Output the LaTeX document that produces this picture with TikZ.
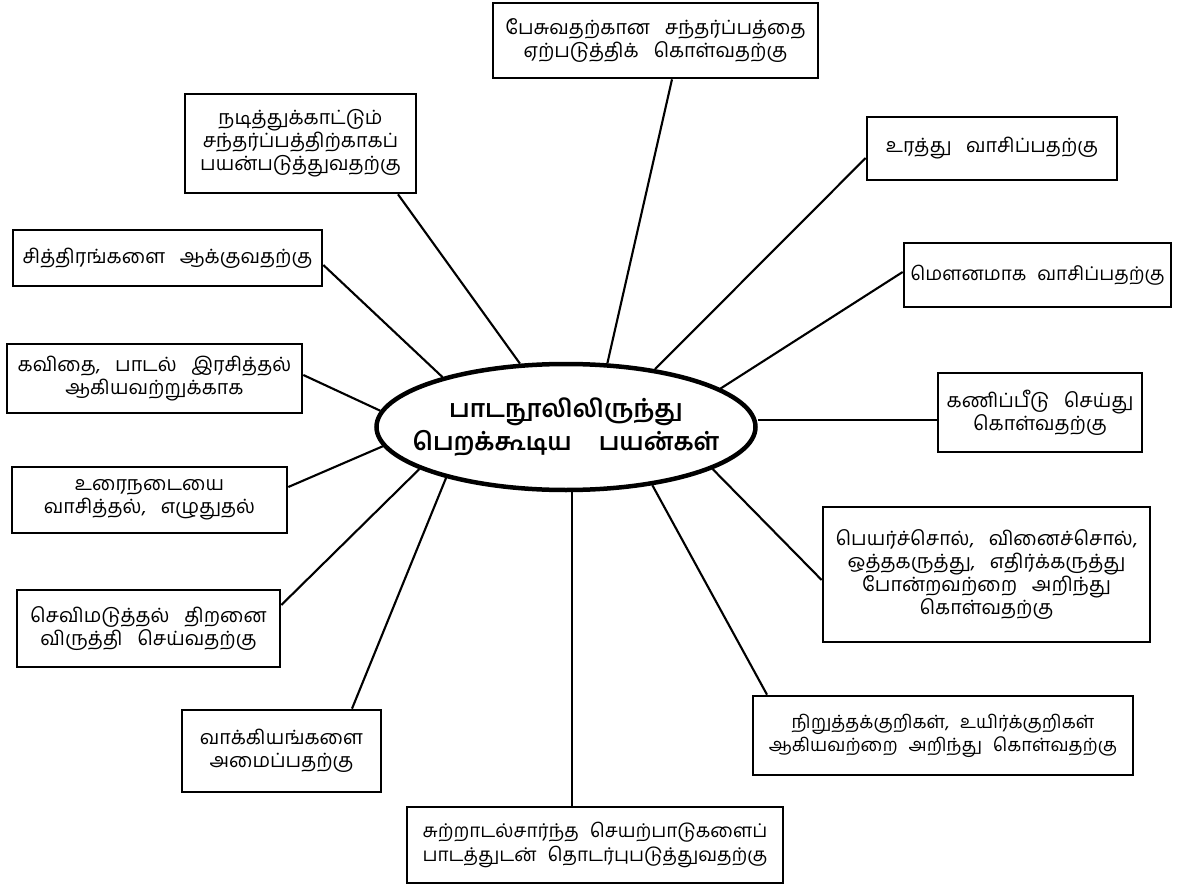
\documentclass[tikz,border=0pt]{standalone}
\usepackage{fontspec}
\newfontfamily\tamil[Script=Tamil]{Hind Madurai}
\usetikzlibrary{shapes.geometric,calc}
\newcommand\boxfont{\tamil\fontsize{14}{16.5}\selectfont\spaceskip=0.75em\relax}
\newcommand\smallboxfont{\tamil\fontsize{13}{16.5}\selectfont\spaceskip=0.6em\relax}
\newcommand\hubfont{\tamil\bfseries\fontsize{17.5}{24}\selectfont\spaceskip=1.1em\relax}
\begin{document}
\begin{tikzpicture}[x=0.025cm,y=-0.025cm,
  box/.style={draw, line width=1.9pt, align=center, inner sep=0pt, font=\boxfont},
  sz/.style 2 args={minimum width={#1*0.025cm}, minimum height={#2*0.025cm}},
  conn/.style={line width=1.5pt},
  hub/.style={ellipse, draw, line width=3.2pt, inner sep=0pt,
    minimum width={379*0.025cm}, minimum height={126*0.025cm}},
  hubtext/.style={font=\hubfont, align=center, inner sep=0pt}]
\useasboundingbox (0,0) rectangle (1184,886);

\node[hub] (ell) at (566,427) {};
\node[hubtext] (title) at (ell.center) {பாடநூலிலிருந்து\\பெறக்கூடிய பயன்கள்};

\node[box, sz={325}{75}] (b1) at (655.5,40.5) {பேசுவதற்கான சந்தர்ப்பத்தை\\ஏற்படுத்திக் கொள்வதற்கு};
\node[box, sz={231}{99}] (b2) at (300.5,143.5) {நடித்துக்காட்டும்\\சந்தர்ப்பத்திற்காகப்\\பயன்படுத்துவதற்கு};
\node[box, sz={250}{63}] (b3) at (992,148.5) {உரத்து வாசிப்பதற்கு};
\node[box, sz={267}{64}, font=\smallboxfont\fontsize{13.5}{16.5}\selectfont] (b4) at (1037.5,275) {மௌனமாக வாசிப்பதற்கு};
\node[box, sz={204}{79}] (b5) at (1040,412.5) {கணிப்பீடு செய்து\\கொள்வதற்கு};
\node[box, sz={309}{56}] (b6) at (167.5,258) {சித்திரங்களை ஆக்குவதற்கு};
\node[box, sz={295}{69}] (b7) at (154.5,378.5) {கவிதை, பாடல் இரசித்தல்\\ஆகியவற்றுக்காக};
\node[box, sz={275}{66}] (b8) at (149.5,500) {உரைநடையை\\வாசித்தல், எழுதுதல்};
\node[box, sz={263}{77}] (b9) at (148.5,628.5) {செவிமடுத்தல் திறனை\\விருத்தி செய்வதற்கு};
\node[box, sz={199}{82}] (b10) at (281.5,751) {வாக்கியங்களை\\அமைப்பதற்கு};
\node[box, sz={376}{76}, font=\smallboxfont\fontsize{13.5}{16.5}\selectfont] (b11) at (595,845) {சுற்றாடல்சார்ந்த செயற்பாடுகளைப்\\பாடத்துடன் தொடர்புபடுத்துவதற்கு};
\node[box, sz={327}{135}] (b12) at (986.5,574.5) {பெயர்ச்சொல், வினைச்சொல்,\\ஒத்தகருத்து, எதிர்க்கருத்து\\போன்றவற்றை அறிந்து\\கொள்வதற்கு};
\node[box, sz={380}{79}, font=\smallboxfont] (b13) at (943,735.5) {நிறுத்தக்குறிகள், உயிர்க்குறிகள்\\ஆகியவற்றை அறிந்து கொள்வதற்கு};

\coordinate (c5) at ($(b5.west)+(0,7.5)$);
\coordinate (c11) at ($(b11.north)+(-23,0)$);

\draw[conn] ($(b1.south)+(16.5,0)$) -- (ell.57.1);
\draw[conn] ($(b2.south)+(97.5,0)$) -- (ell.126.4);
\draw[conn] ($(b3.west)+(0,9.5)$) -- (ell.33.1);
\draw[conn] ($(b4.west)+(0,-3)$) -- (ell.14.6);
\draw[conn] (c5) -- (c5 -| ell.east);
\draw[conn] ($(b6.east)+(0,7)$) -- (ell.158.8);
\draw[conn] ($(b7.east)+(0,-3.5)$) -- (ell.175.9);
\draw[conn] ($(b8.east)+(0,-13)$) -- (ell.186.5);
\draw[conn] ($(b9.east)+(0,-23.5)$) -- (ell.196.4);
\draw[conn] ($(b10.north)+(70.5,0)$) -- (ell.203.3);
\draw[conn] (c11) -- (c11 |- ell.south);
\draw[conn] ($(b12.west)+(0,5.5)$) -- (ell.-16.8);
\draw[conn] ($(b13.north)+(-176,0)$) -- (ell.-34.9);
\end{tikzpicture}
\end{document}
